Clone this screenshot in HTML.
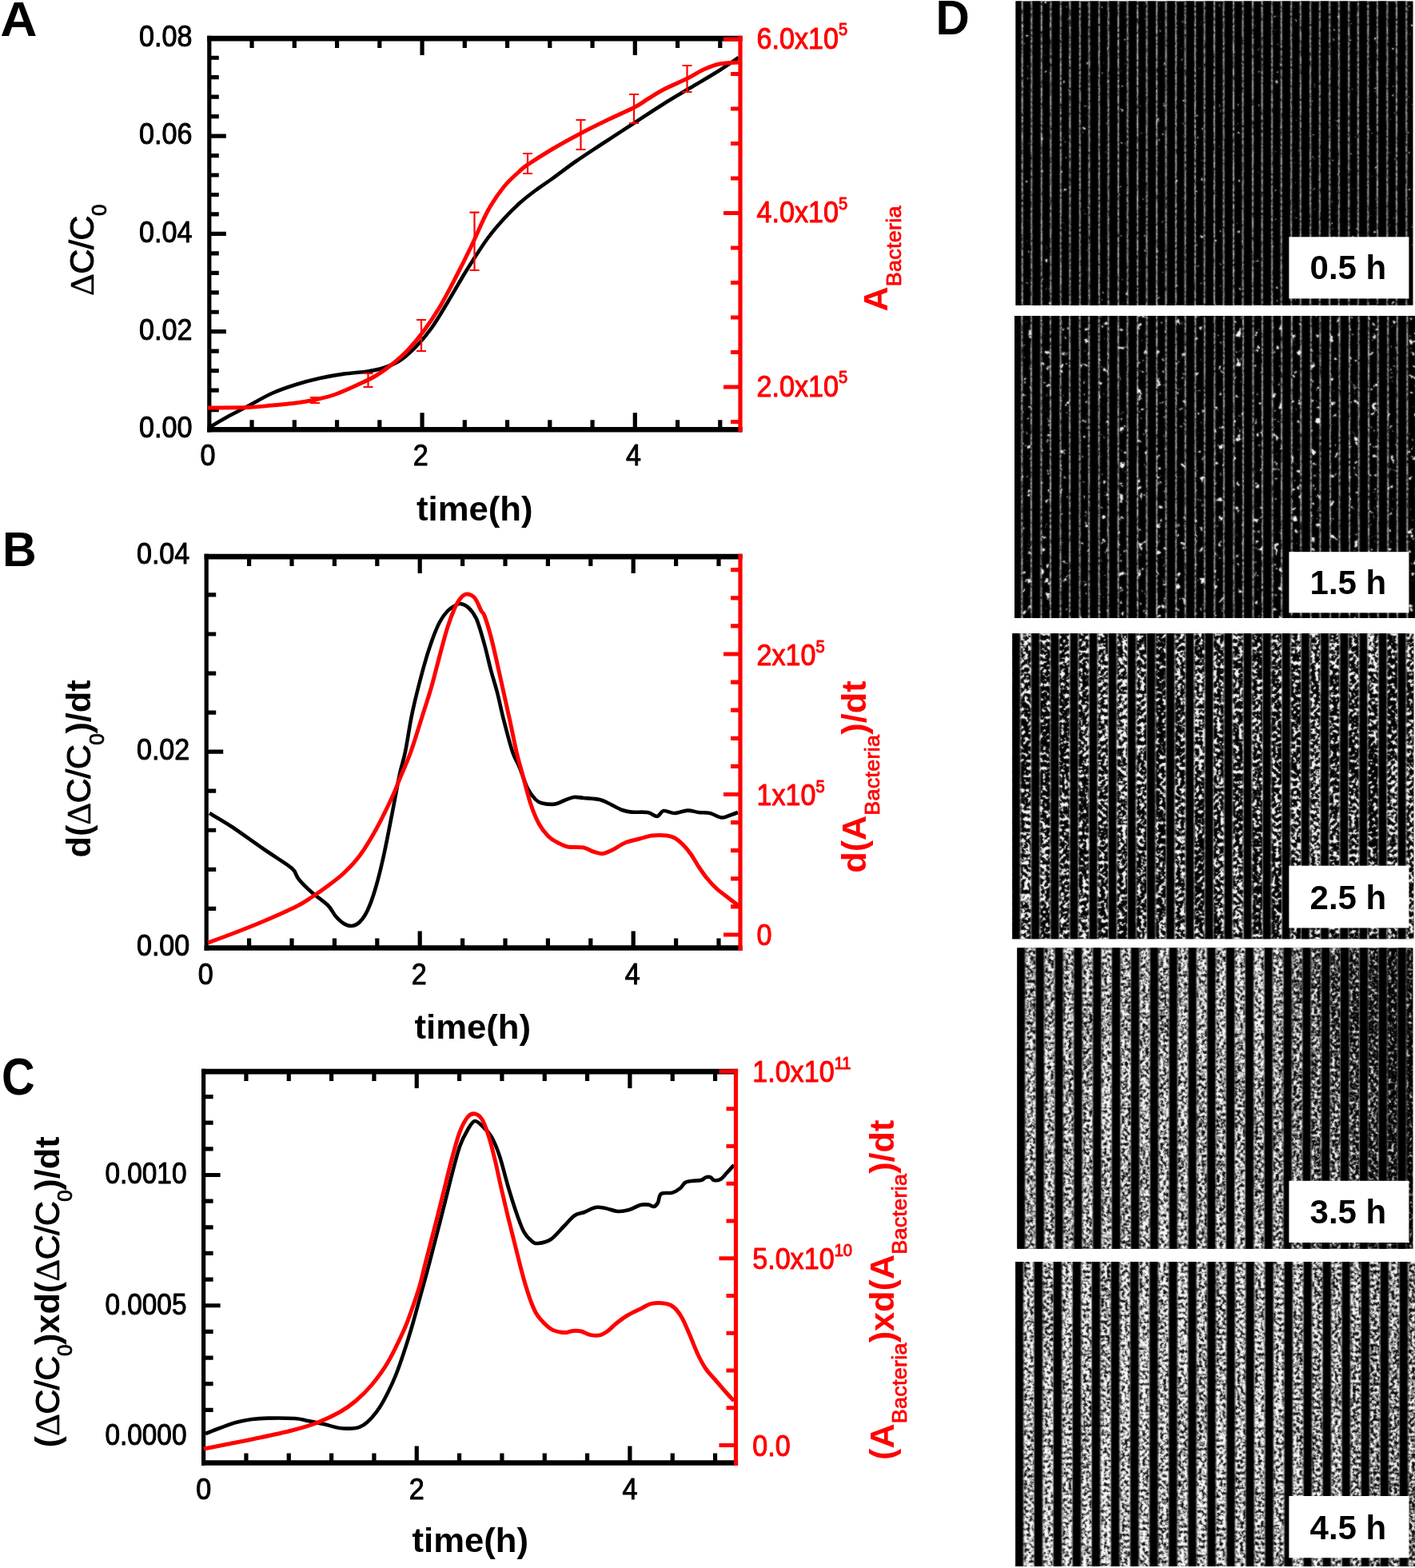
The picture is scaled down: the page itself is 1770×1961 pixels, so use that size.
<!DOCTYPE html>
<html lang="en"><head><meta charset="utf-8"><title>Figure</title>
<style>html,body{margin:0;padding:0;background:#fff;}body{width:1770px;height:1961px;overflow:hidden;}svg{display:block;font-family:'Liberation Sans', sans-serif;}</style>
</head><body>
<svg xmlns="http://www.w3.org/2000/svg" width="1770" height="1961" viewBox="0 0 1770 1961">
<rect width="1770" height="1961" fill="#fff"/>
<defs>
<filter id="soft" x="-2%" y="-2%" width="104%" height="104%"><feGaussianBlur stdDeviation="0.5"/></filter>
<filter id="soft2" x="-2%" y="-2%" width="104%" height="104%"><feGaussianBlur stdDeviation="0.8"/></filter>
<filter id="dot" x="0" y="0" width="100%" height="100%" color-interpolation-filters="sRGB"><feTurbulence type="fractalNoise" baseFrequency="0.45 0.3" numOctaves="2" seed="5"/><feColorMatrix type="matrix" values="0 0 0 0 1  0 0 0 0 1  0 0 0 0 1  2.6 0 0 0 -0.55" result="a"/><feComposite in="SourceGraphic" in2="a" operator="in"/></filter>
<linearGradient id="hgr" x1="0" y1="0" x2="1" y2="0"><stop offset="0" stop-color="#989898"/><stop offset="0.62" stop-color="#989898"/><stop offset="0.85" stop-color="#505050"/><stop offset="1" stop-color="#181818"/></linearGradient>
<filter id="nz1" x="0" y="0" width="100%" height="100%" color-interpolation-filters="sRGB">
<feTurbulence type="fractalNoise" baseFrequency="0.17" numOctaves="3" seed="3" result="h0"/>
<feColorMatrix in="h0" type="matrix" values="1 0 0 0 0  1 0 0 0 0  1 0 0 0 0  0 0 0 0 1" result="h1"/>
<feTurbulence type="fractalNoise" baseFrequency="0.03 0.006" numOctaves="2" seed="43" result="l0"/>
<feColorMatrix in="l0" type="matrix" values="1 0 0 0 0  1 0 0 0 0  1 0 0 0 0  0 0 0 0 1" result="l1"/>
<feComposite in="h1" in2="l1" operator="arithmetic" k1="0" k2="1" k3="0" k4="-0" result="m1"/>
<feComposite in="m1" in2="SourceGraphic" operator="arithmetic" k1="0" k2="1" k3="0" k4="-0" result="m2"/>
<feColorMatrix in="m2" type="matrix" values="0 0 0 0 1  0 0 0 0 1  0 0 0 0 1  14 0 0 0 -10.64" result="th"/>
</filter>
<pattern id="sb1" patternUnits="userSpaceOnUse" x="1266.3" y="0" width="24.03" height="10">
<rect x="0" y="0" width="12.4" height="10" fill="#000"/>
</pattern>
<pattern id="sl1" patternUnits="userSpaceOnUse" x="1266.3" y="0" width="24.03" height="10">
<rect x="11.6" y="0" width="1.6" height="10" fill="#f0f0f0"/>
<rect x="23.23" y="0" width="1.6" height="10" fill="#f0f0f0"/>
<rect x="-0.8" y="0" width="1.6" height="10" fill="#f0f0f0"/>
</pattern>
<filter id="sf1" x="-2%" y="-2%" width="104%" height="104%" color-interpolation-filters="sRGB"><feGaussianBlur stdDeviation="0.9" result="b"/><feComposite in="SourceGraphic" in2="b" operator="arithmetic" k1="0" k2="0.4" k3="0.6" k4="0"/></filter>
<clipPath id="ci1"><rect x="1270.6" y="1.5" width="496.9" height="380.2"/></clipPath>
<filter id="nz2" x="0" y="0" width="100%" height="100%" color-interpolation-filters="sRGB">
<feTurbulence type="fractalNoise" baseFrequency="0.13" numOctaves="3" seed="7" result="h0"/>
<feColorMatrix in="h0" type="matrix" values="1 0 0 0 0  1 0 0 0 0  1 0 0 0 0  0 0 0 0 1" result="h1"/>
<feTurbulence type="fractalNoise" baseFrequency="0.03 0.006" numOctaves="2" seed="47" result="l0"/>
<feColorMatrix in="l0" type="matrix" values="1 0 0 0 0  1 0 0 0 0  1 0 0 0 0  0 0 0 0 1" result="l1"/>
<feComposite in="h1" in2="l1" operator="arithmetic" k1="0" k2="1" k3="0.1" k4="-0.05" result="m1"/>
<feComposite in="m1" in2="SourceGraphic" operator="arithmetic" k1="0" k2="1" k3="0" k4="-0" result="m2"/>
<feColorMatrix in="m2" type="matrix" values="0 0 0 0 1  0 0 0 0 1  0 0 0 0 1  14 0 0 0 -9.31" result="th"/>
</filter>
<pattern id="sb2" patternUnits="userSpaceOnUse" x="1265.8" y="0" width="24.1" height="10">
<rect x="0" y="0" width="12.5" height="10" fill="#000"/>
</pattern>
<pattern id="sl2" patternUnits="userSpaceOnUse" x="1265.8" y="0" width="24.1" height="10">
<rect x="11.7" y="0" width="1.6" height="10" fill="#f0f0f0"/>
<rect x="23.3" y="0" width="1.6" height="10" fill="#f0f0f0"/>
<rect x="-0.8" y="0" width="1.6" height="10" fill="#f0f0f0"/>
</pattern>
<filter id="sf2" x="-2%" y="-2%" width="104%" height="104%" color-interpolation-filters="sRGB"><feGaussianBlur stdDeviation="0.9" result="b"/><feComposite in="SourceGraphic" in2="b" operator="arithmetic" k1="0" k2="0.4" k3="0.6" k4="0"/></filter>
<clipPath id="ci2"><rect x="1269" y="395" width="501" height="378"/></clipPath>
<filter id="nz3" x="0" y="0" width="100%" height="100%" color-interpolation-filters="sRGB">
<feTurbulence type="fractalNoise" baseFrequency="0.22" numOctaves="2" seed="11" result="h0"/>
<feColorMatrix in="h0" type="matrix" values="1 0 0 0 0  1 0 0 0 0  1 0 0 0 0  0 0 0 0 1" result="h1"/>
<feTurbulence type="fractalNoise" baseFrequency="0.03 0.006" numOctaves="2" seed="51" result="l0"/>
<feColorMatrix in="l0" type="matrix" values="1 0 0 0 0  1 0 0 0 0  1 0 0 0 0  0 0 0 0 1" result="l1"/>
<feComposite in="h1" in2="l1" operator="arithmetic" k1="0" k2="1" k3="0.22" k4="-0.11" result="m1"/>
<feComposite in="m1" in2="SourceGraphic" operator="arithmetic" k1="0" k2="1" k3="0" k4="-0" result="m2"/>
<feColorMatrix in="m2" type="matrix" values="0 0 0 0 1  0 0 0 0 1  0 0 0 0 1  8 0 0 0 -3.96" result="th"/>
</filter>
<pattern id="sb3" patternUnits="userSpaceOnUse" x="1266.1" y="0" width="24.13" height="10">
<rect x="0" y="0" width="10" height="10" fill="#000"/>
</pattern>
<pattern id="sl3" patternUnits="userSpaceOnUse" x="1266.1" y="0" width="24.13" height="10">
<rect x="10" y="0" width="1" height="10" fill="#a0a0a0"/>
<rect x="23.13" y="0" width="1" height="10" fill="#a0a0a0"/>
</pattern>
<filter id="sf3" x="-2%" y="-2%" width="104%" height="104%" color-interpolation-filters="sRGB"><feGaussianBlur stdDeviation="0.9" result="b"/><feComposite in="SourceGraphic" in2="b" operator="arithmetic" k1="0" k2="0.5" k3="0.5" k4="0"/></filter>
<clipPath id="ci3"><rect x="1266" y="792.3" width="502.5" height="381.9"/></clipPath>
<filter id="nz4" x="0" y="0" width="100%" height="100%" color-interpolation-filters="sRGB">
<feTurbulence type="fractalNoise" baseFrequency="0.27" numOctaves="3" seed="19" result="h0"/>
<feColorMatrix in="h0" type="matrix" values="1 0 0 0 0  1 0 0 0 0  1 0 0 0 0  0 0 0 0 1" result="h1"/>
<feTurbulence type="fractalNoise" baseFrequency="0.03 0.006" numOctaves="2" seed="59" result="l0"/>
<feColorMatrix in="l0" type="matrix" values="1 0 0 0 0  1 0 0 0 0  1 0 0 0 0  0 0 0 0 1" result="l1"/>
<feComposite in="h1" in2="l1" operator="arithmetic" k1="0" k2="1" k3="0.12" k4="-0.06" result="m1"/>
<feComposite in="m1" in2="SourceGraphic" operator="arithmetic" k1="0" k2="1" k3="0.42" k4="-0.21" result="m2"/>
<feColorMatrix in="m2" type="matrix" values="0 0 0 0 1  0 0 0 0 1  0 0 0 0 1  4 0 0 0 -1.52" result="th"/>
</filter>
<pattern id="sb4" patternUnits="userSpaceOnUse" x="1271.9" y="0" width="23.83" height="10">
<rect x="0" y="0" width="10.3" height="10" fill="#000"/>
</pattern>
<pattern id="sl4" patternUnits="userSpaceOnUse" x="1271.9" y="0" width="23.83" height="10">
<rect x="10.4" y="0" width="0.8" height="10" fill="#808080"/>
<rect x="22.93" y="0" width="0.8" height="10" fill="#808080"/>
</pattern>
<filter id="sf4" x="-2%" y="-2%" width="104%" height="104%" color-interpolation-filters="sRGB"><feGaussianBlur stdDeviation="0.9" result="b"/><feComposite in="SourceGraphic" in2="b" operator="arithmetic" k1="0" k2="0.5" k3="0.5" k4="0"/></filter>
<clipPath id="ci4"><rect x="1272.3" y="1185.6" width="495.2" height="376.1"/></clipPath>
<filter id="nz5" x="0" y="0" width="100%" height="100%" color-interpolation-filters="sRGB">
<feTurbulence type="fractalNoise" baseFrequency="0.27" numOctaves="3" seed="23" result="h0"/>
<feColorMatrix in="h0" type="matrix" values="1 0 0 0 0  1 0 0 0 0  1 0 0 0 0  0 0 0 0 1" result="h1"/>
<feTurbulence type="fractalNoise" baseFrequency="0.03 0.006" numOctaves="2" seed="63" result="l0"/>
<feColorMatrix in="l0" type="matrix" values="1 0 0 0 0  1 0 0 0 0  1 0 0 0 0  0 0 0 0 1" result="l1"/>
<feComposite in="h1" in2="l1" operator="arithmetic" k1="0" k2="1" k3="0.12" k4="-0.06" result="m1"/>
<feComposite in="m1" in2="SourceGraphic" operator="arithmetic" k1="0" k2="1" k3="0.12" k4="-0.06" result="m2"/>
<feColorMatrix in="m2" type="matrix" values="0 0 0 0 1  0 0 0 0 1  0 0 0 0 1  4 0 0 0 -1.34" result="th"/>
</filter>
<pattern id="sb5" patternUnits="userSpaceOnUse" x="1269.8" y="0" width="24.05" height="10">
<rect x="0" y="0" width="10.3" height="10" fill="#000"/>
</pattern>
<pattern id="sl5" patternUnits="userSpaceOnUse" x="1269.8" y="0" width="24.05" height="10">
<rect x="10.4" y="0" width="0.8" height="10" fill="#808080"/>
<rect x="23.15" y="0" width="0.8" height="10" fill="#808080"/>
</pattern>
<filter id="sf5" x="-2%" y="-2%" width="104%" height="104%" color-interpolation-filters="sRGB"><feGaussianBlur stdDeviation="0.9" result="b"/><feComposite in="SourceGraphic" in2="b" operator="arithmetic" k1="0" k2="0.5" k3="0.5" k4="0"/></filter>
<clipPath id="ci5"><rect x="1270.2" y="1578" width="499.8" height="381"/></clipPath>
</defs>
<g id="img1" clip-path="url(#ci1)">
<rect x="1266.6" y="-2.5" width="504.9" height="388.2" fill="#000"/>
<g filter="url(#sf1)">
<rect x="1266.6" y="-2.5" width="504.9" height="388.2" fill="url(#hgr)" filter="url(#nz1)"/>
<rect x="1266.6" y="-2.5" width="504.9" height="388.2" fill="url(#sb1)"/>
<rect x="1266.6" y="-2.5" width="504.9" height="388.2" fill="url(#sl1)" filter="url(#dot)"/>
</g>
</g>
<rect x="1612.4" y="296.3" width="150" height="77.1" fill="#fff"/>
<text transform="translate(1686.4,348.6) scale(1,1)" font-size="42" text-anchor="middle" font-weight="bold" fill="#000">0.5 h</text>
<g id="img2" clip-path="url(#ci2)">
<rect x="1265" y="391" width="509" height="386" fill="#000"/>
<g filter="url(#sf2)">
<rect x="1265" y="391" width="509" height="386" fill="url(#hgr)" filter="url(#nz2)"/>
<rect x="1265" y="391" width="509" height="386" fill="url(#sb2)"/>
<rect x="1265" y="391" width="509" height="386" fill="url(#sl2)" filter="url(#dot)"/>
</g>
</g>
<rect x="1612.4" y="690.2" width="150" height="76.2" fill="#fff"/>
<text transform="translate(1686.4,742.5) scale(1,1)" font-size="42" text-anchor="middle" font-weight="bold" fill="#000">1.5 h</text>
<g id="img3" clip-path="url(#ci3)">
<rect x="1262" y="788.3" width="510.5" height="389.9" fill="#000"/>
<g filter="url(#sf3)">
<rect x="1262" y="788.3" width="510.5" height="389.9" fill="url(#hgr)" filter="url(#nz3)"/>
<rect x="1262" y="788.3" width="510.5" height="389.9" fill="url(#sb3)"/>
<rect x="1262" y="788.3" width="510.5" height="389.9" fill="url(#sl3)"/>
</g>
</g>
<rect x="1612.4" y="1082.7" width="150" height="77.8" fill="#fff"/>
<text transform="translate(1686.4,1136.6) scale(1,1)" font-size="42" text-anchor="middle" font-weight="bold" fill="#000">2.5 h</text>
<g id="img4" clip-path="url(#ci4)">
<rect x="1268.3" y="1181.6" width="503.2" height="384.1" fill="#000"/>
<g filter="url(#sf4)">
<rect x="1268.3" y="1181.6" width="503.2" height="384.1" fill="url(#hgr)" filter="url(#nz4)"/>
<rect x="1268.3" y="1181.6" width="503.2" height="384.1" fill="url(#sb4)"/>
<rect x="1268.3" y="1181.6" width="503.2" height="384.1" fill="url(#sl4)"/>
</g>
</g>
<rect x="1612.4" y="1476.8" width="150" height="77.2" fill="#fff"/>
<text transform="translate(1686.4,1530.2) scale(1,1)" font-size="42" text-anchor="middle" font-weight="bold" fill="#000">3.5 h</text>
<g id="img5" clip-path="url(#ci5)">
<rect x="1266.2" y="1574" width="507.8" height="389" fill="#000"/>
<g filter="url(#sf5)">
<rect x="1266.2" y="1574" width="507.8" height="389" fill="url(#hgr)" filter="url(#nz5)"/>
<rect x="1266.2" y="1574" width="507.8" height="389" fill="url(#sb5)"/>
<rect x="1266.2" y="1574" width="507.8" height="389" fill="url(#sl5)"/>
</g>
</g>
<rect x="1612.4" y="1871" width="150" height="77.3" fill="#fff"/>
<text transform="translate(1686.4,1924.9) scale(1,1)" font-size="42" text-anchor="middle" font-weight="bold" fill="#000">4.5 h</text>
<g id="panelA">
<clipPath id="clipA"><rect x="258.8" y="48.1" width="670.2" height="489.2"/></clipPath>
<path d="M315.05,48.1v12M315.05,537.3v-12M368.3,48.1v12M368.3,537.3v-12M421.55,48.1v12M421.55,537.3v-12M474.8,48.1v12M474.8,537.3v-12M528.05,48.1v21M528.05,537.3v-21M581.3,48.1v12M581.3,537.3v-12M634.55,48.1v12M634.55,537.3v-12M687.8,48.1v12M687.8,537.3v-12M741.05,48.1v12M741.05,537.3v-12M794.3,48.1v21M794.3,537.3v-21M847.55,48.1v12M847.55,537.3v-12M900.8,48.1v12M900.8,537.3v-12M261.8,512.54h12M261.8,488.08h12M261.8,463.62h12M261.8,439.16h12M261.8,414.7h21M261.8,390.24h12M261.8,365.78h12M261.8,341.32h12M261.8,316.86h12M261.8,292.4h21M261.8,267.94h12M261.8,243.48h12M261.8,219.02h12M261.8,194.56h12M261.8,170.1h21M261.8,145.64h12M261.8,121.18h12M261.8,96.72h12M261.8,72.26h12" stroke="#000" stroke-width="5.2" fill="none"/>
<path d="M261.8,44.8V540.6" stroke="#000" stroke-width="5.2" fill="none"/>
<path d="M259.2,48.1H928.6M259.2,537.3H928.6" stroke="#000" stroke-width="6.6" fill="none"/>
<g clip-path="url(#clipA)" fill="none" stroke-linejoin="round" stroke-linecap="butt">
<path d="M261,535C265,532.67 276.83,525.5 285,521C293.17,516.5 300.83,512.83 310,508C319.17,503.17 330,496.5 340,492C350,487.5 360,484.17 370,481C380,477.83 390,475.23 400,473C410,470.77 420,469.03 430,467.6C440,466.17 451.67,465.67 460,464.4C468.33,463.13 473.33,462.23 480,460C486.67,457.77 493.33,455.33 500,451C506.67,446.67 513.33,440.83 520,434C526.67,427.17 533.33,419.33 540,410C546.67,400.67 553.33,389 560,378C566.67,367 575,352.33 580,344C585,335.67 585,335.67 590,328C595,320.33 603.33,307 610,298C616.67,289 623.33,281.33 630,274C636.67,266.67 643.33,260 650,254C656.67,248 663.33,243 670,238C676.67,233 681.67,230 690,224C698.33,218 710,209 720,202C730,195 738.33,189.67 750,182C761.67,174.33 776.67,164.67 790,156C803.33,147.33 816.67,138.33 830,130C843.33,121.67 858.33,113 870,106C881.67,99 891,93.67 900,88C909,82.33 920,74.67 924,72" stroke="#000" stroke-width="4.6"/>
<path d="M260,510C268.33,509.93 296.67,510.1 310,509.6C323.33,509.1 330,507.93 340,507C350,506.07 361,505.17 370,504C379,502.83 385.67,501.83 394,500C402.33,498.17 410.67,496.33 420,493C429.33,489.67 441.67,483.83 450,480C458.33,476.17 463.33,474 470,470C476.67,466 483.33,461.33 490,456C496.67,450.67 503.33,445 510,438C516.67,431 523.33,423 530,414C536.67,405 543.33,395.17 550,384C556.67,372.83 563.33,359.83 570,347C576.67,334.17 583.33,320.83 590,307C596.67,293.17 603.33,276.17 610,264C616.67,251.83 623.33,242.33 630,234C636.67,225.67 645,218.67 650,214C655,209.33 653.33,210.5 660,206C666.67,201.5 679,193.5 690,187C701,180.5 714.33,173.17 726,167C737.67,160.83 748.67,155.5 760,150C771.33,144.5 785.67,138.33 794,134C802.33,129.67 804,127.67 810,124C816,120.33 821.67,116.33 830,112C838.33,107.67 851.67,102.17 860,98C868.33,93.83 873.33,90 880,87C886.67,84 892.67,81.5 900,80C907.33,78.5 920,78.33 924,78" stroke="#ff0000" stroke-width="5"/>
</g>
<path d="M394,497V504M388,497h12M388,504h12M460.5,467V484M454.5,467h12M454.5,484h12M527,400V439M521,400h12M521,439h12M593.5,265.6V338M587.5,265.6h12M587.5,338h12M660,192V217M654,192h12M654,217h12M726.5,150V187M720.5,150h12M720.5,187h12M793,118V154M787,118h12M787,154h12M859.5,82V115M853.5,82h12M853.5,115h12" stroke="#ff0000" stroke-width="2.2" fill="none"/>
<path d="M926,44.8V540.6" stroke="#ff0000" stroke-width="5.2" fill="none"/>
<path d="M926,527.5h-12M926,484h-21M926,440.5h-12M926,397h-12M926,353.5h-12M926,310h-12M926,266.5h-21M926,223h-12M926,179.5h-12M926,136h-12M926,92.5h-12M926,49h-21" stroke="#ff0000" stroke-width="5.2" fill="none"/>
<text transform="translate(240.5,58) scale(0.94,1)" font-size="36.3" text-anchor="end" font-weight="normal" fill="#000" stroke="#000" stroke-width="1" stroke-linejoin="round">0.08</text>
<text transform="translate(240.5,180.25) scale(0.94,1)" font-size="36.3" text-anchor="end" font-weight="normal" fill="#000" stroke="#000" stroke-width="1" stroke-linejoin="round">0.06</text>
<text transform="translate(240.5,302.5) scale(0.94,1)" font-size="36.3" text-anchor="end" font-weight="normal" fill="#000" stroke="#000" stroke-width="1" stroke-linejoin="round">0.04</text>
<text transform="translate(240.5,424.75) scale(0.94,1)" font-size="36.3" text-anchor="end" font-weight="normal" fill="#000" stroke="#000" stroke-width="1" stroke-linejoin="round">0.02</text>
<text transform="translate(240.5,547) scale(0.94,1)" font-size="36.3" text-anchor="end" font-weight="normal" fill="#000" stroke="#000" stroke-width="1" stroke-linejoin="round">0.00</text>
<text transform="translate(946.5,60.5) scale(0.94,1)" font-size="36.3" text-anchor="start" font-weight="normal" fill="#ff0000" stroke="#ff0000" stroke-width="1" stroke-linejoin="round">6.0x10<tspan font-size="21.5" dy="-16.3">5</tspan></text>
<text transform="translate(946.5,278) scale(0.94,1)" font-size="36.3" text-anchor="start" font-weight="normal" fill="#ff0000" stroke="#ff0000" stroke-width="1" stroke-linejoin="round">4.0x10<tspan font-size="21.5" dy="-16.3">5</tspan></text>
<text transform="translate(946.5,495.5) scale(0.94,1)" font-size="36.3" text-anchor="start" font-weight="normal" fill="#ff0000" stroke="#ff0000" stroke-width="1" stroke-linejoin="round">2.0x10<tspan font-size="21.5" dy="-16.3">5</tspan></text>
<text transform="translate(260,582.2) scale(0.94,1)" font-size="36.3" text-anchor="middle" font-weight="normal" fill="#000" stroke="#000" stroke-width="1" stroke-linejoin="round">0</text>
<text transform="translate(526.25,582.2) scale(0.94,1)" font-size="36.3" text-anchor="middle" font-weight="normal" fill="#000" stroke="#000" stroke-width="1" stroke-linejoin="round">2</text>
<text transform="translate(792.5,582.2) scale(0.94,1)" font-size="36.3" text-anchor="middle" font-weight="normal" fill="#000" stroke="#000" stroke-width="1" stroke-linejoin="round">4</text>
<text transform="translate(593.81,651) scale(1.04,1)" font-size="42" text-anchor="middle" font-weight="bold" fill="#000">time(h)</text>
</g>
<g id="panelB">
<clipPath id="clipB"><rect x="255.2" y="696.1" width="673.8" height="489.4"/></clipPath>
<path d="M311.6,696.1v12M311.6,1185.5v-12M365,696.1v12M365,1185.5v-12M418.4,696.1v12M418.4,1185.5v-12M471.8,696.1v12M471.8,1185.5v-12M525.2,696.1v21M525.2,1185.5v-21M578.6,696.1v12M578.6,1185.5v-12M632,696.1v12M632,1185.5v-12M685.4,696.1v12M685.4,1185.5v-12M738.8,696.1v12M738.8,1185.5v-12M792.2,696.1v21M792.2,1185.5v-21M845.6,696.1v12M845.6,1185.5v-12M899,696.1v12M899,1185.5v-12M258.2,1136.35h12M258.2,1087.3h12M258.2,1038.25h12M258.2,989.2h12M258.2,940.15h21M258.2,891.1h12M258.2,842.05h12M258.2,793h12M258.2,743.95h12" stroke="#000" stroke-width="5.2" fill="none"/>
<path d="M258.2,692.8V1188.8" stroke="#000" stroke-width="5.2" fill="none"/>
<path d="M255.6,696.1H928.6M255.6,1185.5H928.6" stroke="#000" stroke-width="6.6" fill="none"/>
<g clip-path="url(#clipB)" fill="none" stroke-linejoin="round" stroke-linecap="butt">
<path d="M262,1017C266.67,1019.83 278.67,1026.5 290,1034C301.33,1041.5 318.33,1054 330,1062C341.67,1070 353.67,1077.5 360,1082C366.33,1086.5 365.67,1086 368,1089C370.33,1092 370.33,1095.5 374,1100C377.67,1104.5 384,1110.67 390,1116C396,1121.33 405,1127 410,1132C415,1137 416.67,1142.17 420,1146C423.33,1149.83 426.67,1153 430,1155C433.33,1157 436.67,1158.33 440,1158C443.33,1157.67 446.67,1156.33 450,1153C453.33,1149.67 456.67,1145.17 460,1138C463.33,1130.83 466.67,1121.33 470,1110C473.33,1098.67 476.67,1085 480,1070C483.33,1055 486.67,1037 490,1020C493.33,1003 497.17,981.33 500,968C502.83,954.67 504.33,953 507,940C509.67,927 512.17,907.67 516,890C519.83,872.33 526,848.67 530,834C534,819.33 536.67,811.33 540,802C543.33,792.67 546.67,784.33 550,778C553.33,771.67 556.67,767.5 560,764C563.33,760.5 567.33,758.5 570,757C572.67,755.5 573.33,754.5 576,755C578.67,755.5 582.67,756.83 586,760C589.33,763.17 592.67,766.33 596,774C599.33,781.67 603,795.33 606,806C609,816.67 611.33,828 614,838C616.67,848 619.33,855.67 622,866C624.67,876.33 626.83,887.67 630,900C633.17,912.33 637.67,930 641,940C644.33,950 646.83,952.33 650,960C653.17,967.67 656.67,979.33 660,986C663.33,992.67 667,996.93 670,1000C673,1003.07 674,1003.47 678,1004.4C682,1005.33 689.33,1006.17 694,1005.6C698.67,1005.03 702,1002.43 706,1001C710,999.57 714,997.5 718,997C722,996.5 724.67,997.5 730,998C735.33,998.5 744.67,998.83 750,1000C755.33,1001.17 757.33,1002.83 762,1005C766.67,1007.17 773.33,1011.23 778,1013C782.67,1014.77 784.67,1015.1 790,1015.6C795.33,1016.1 804.67,1015.1 810,1016C815.33,1016.9 818.67,1021.33 822,1021C825.33,1020.67 826.33,1014.67 830,1014C833.67,1013.33 839,1017.07 844,1017C849,1016.93 855,1013.77 860,1013.6C865,1013.43 869.33,1015.43 874,1016C878.67,1016.57 883.33,1015.93 888,1017C892.67,1018.07 898,1021.9 902,1022.4C906,1022.9 908.5,1021.07 912,1020C915.5,1018.93 921.17,1016.67 923,1016" stroke="#000" stroke-width="4.6"/>
<path d="M260,1179C265,1177.17 278.33,1172.5 290,1168C301.67,1163.5 316.67,1157.67 330,1152C343.33,1146.33 360,1139 370,1134C380,1129 383.33,1126.33 390,1122C396.67,1117.67 403.33,1113 410,1108C416.67,1103 423.33,1098.33 430,1092C436.67,1085.67 443.33,1079 450,1070C456.67,1061 463.33,1050 470,1038C476.67,1026 485,1008.67 490,998C495,987.33 496,983.67 500,974C504,964.33 509,954 514,940C519,926 525.67,903.67 530,890C534.33,876.33 536.67,869.67 540,858C543.33,846.33 546.67,832.33 550,820C553.33,807.67 556.67,794.33 560,784C563.33,773.67 567,764.33 570,758C573,751.67 575.5,748.5 578,746C580.5,743.5 582.33,742.67 585,743C587.67,743.33 591.17,744.5 594,748C596.83,751.5 600,760.33 602,764C604,767.67 604,764.67 606,770C608,775.33 611.33,786 614,796C616.67,806 619.33,818.33 622,830C624.67,841.67 627.33,854 630,866C632.67,878 635.33,889.67 638,902C640.67,914.33 643.33,928.67 646,940C648.67,951.33 651,959 654,970C657,981 660.67,996 664,1006C667.33,1016 670.33,1023.33 674,1030C677.67,1036.67 682,1042 686,1046C690,1050 694,1051.83 698,1054C702,1056.17 704.67,1058 710,1059C715.33,1060 724.67,1059 730,1060C735.33,1061 738,1063.73 742,1065C746,1066.27 750,1067.93 754,1067.6C758,1067.27 761.33,1065.27 766,1063C770.67,1060.73 776.33,1056.33 782,1054C787.67,1051.67 794.33,1050.5 800,1049C805.67,1047.5 810.33,1045.67 816,1045C821.67,1044.33 829.33,1044.5 834,1045C838.67,1045.5 840.67,1046.17 844,1048C847.33,1049.83 850.67,1052.67 854,1056C857.33,1059.33 860.67,1063.33 864,1068C867.33,1072.67 870.67,1079 874,1084C877.33,1089 880.33,1093.5 884,1098C887.67,1102.5 891.67,1107 896,1111C900.33,1115 905.5,1118.5 910,1122C914.5,1125.5 920.83,1130.33 923,1132" stroke="#ff0000" stroke-width="5"/>
</g>
<path d="M926,692.8V1188.8" stroke="#ff0000" stroke-width="5.2" fill="none"/>
<path d="M926,1169h-21M926,1133.9h-12M926,1098.8h-12M926,1063.7h-12M926,1028.6h-12M926,993.5h-21M926,958.4h-12M926,923.3h-12M926,888.2h-12M926,853.1h-12M926,818h-21M926,782.9h-12M926,747.8h-12M926,712.7h-12" stroke="#ff0000" stroke-width="5.2" fill="none"/>
<text transform="translate(237.3,704.8) scale(0.94,1)" font-size="36.3" text-anchor="end" font-weight="normal" fill="#000" stroke="#000" stroke-width="1" stroke-linejoin="round">0.04</text>
<text transform="translate(237.3,950.2) scale(0.94,1)" font-size="36.3" text-anchor="end" font-weight="normal" fill="#000" stroke="#000" stroke-width="1" stroke-linejoin="round">0.02</text>
<text transform="translate(237.3,1194.8) scale(0.94,1)" font-size="36.3" text-anchor="end" font-weight="normal" fill="#000" stroke="#000" stroke-width="1" stroke-linejoin="round">0.00</text>
<text transform="translate(946.5,831.9) scale(0.94,1)" font-size="36.3" text-anchor="start" font-weight="normal" fill="#ff0000" stroke="#ff0000" stroke-width="1" stroke-linejoin="round">2x10<tspan font-size="21.5" dy="-16.3">5</tspan></text>
<text transform="translate(946.5,1007.4) scale(0.94,1)" font-size="36.3" text-anchor="start" font-weight="normal" fill="#ff0000" stroke="#ff0000" stroke-width="1" stroke-linejoin="round">1x10<tspan font-size="21.5" dy="-16.3">5</tspan></text>
<text transform="translate(946.5,1182.4) scale(0.94,1)" font-size="36.3" text-anchor="start" font-weight="normal" fill="#ff0000" stroke="#ff0000" stroke-width="1" stroke-linejoin="round">0</text>
<text transform="translate(257.2,1230.5) scale(0.94,1)" font-size="36.3" text-anchor="middle" font-weight="normal" fill="#000" stroke="#000" stroke-width="1" stroke-linejoin="round">0</text>
<text transform="translate(524.2,1230.5) scale(0.94,1)" font-size="36.3" text-anchor="middle" font-weight="normal" fill="#000" stroke="#000" stroke-width="1" stroke-linejoin="round">2</text>
<text transform="translate(791.2,1230.5) scale(0.94,1)" font-size="36.3" text-anchor="middle" font-weight="normal" fill="#000" stroke="#000" stroke-width="1" stroke-linejoin="round">4</text>
<text transform="translate(591.25,1298.7) scale(1.04,1)" font-size="42" text-anchor="middle" font-weight="bold" fill="#000">time(h)</text>
</g>
<g id="panelC">
<clipPath id="clipC"><rect x="251.6" y="1340.1" width="671.9" height="489.4"/></clipPath>
<path d="M307.93,1340.1v12M307.93,1829.5v-12M361.26,1340.1v12M361.26,1829.5v-12M414.59,1340.1v12M414.59,1829.5v-12M467.92,1340.1v12M467.92,1829.5v-12M521.25,1340.1v21M521.25,1829.5v-21M574.58,1340.1v12M574.58,1829.5v-12M627.91,1340.1v12M627.91,1829.5v-12M681.24,1340.1v12M681.24,1829.5v-12M734.57,1340.1v12M734.57,1829.5v-12M787.9,1340.1v21M787.9,1829.5v-21M841.23,1340.1v12M841.23,1829.5v-12M894.56,1340.1v12M894.56,1829.5v-12M254.6,1763.35h12M254.6,1730.7h12M254.6,1698.05h12M254.6,1665.4h12M254.6,1632.75h21M254.6,1600.1h12M254.6,1567.45h12M254.6,1534.8h12M254.6,1502.15h12M254.6,1469.5h21M254.6,1436.85h12M254.6,1404.2h12M254.6,1371.55h12" stroke="#000" stroke-width="5.2" fill="none"/>
<path d="M254.6,1336.8V1832.8" stroke="#000" stroke-width="5.2" fill="none"/>
<path d="M252,1340.1H923.1M252,1829.5H923.1" stroke="#000" stroke-width="6.6" fill="none"/>
<g clip-path="url(#clipC)" fill="none" stroke-linejoin="round" stroke-linecap="butt">
<path d="M257,1793C260,1791.83 268.67,1788.33 275,1786C281.33,1783.67 288.33,1780.83 295,1779C301.67,1777.17 308.33,1775.9 315,1775C321.67,1774.1 326,1773.77 335,1773.6C344,1773.43 360.67,1773.43 369,1774C377.33,1774.57 379,1775.83 385,1777C391,1778.17 398.33,1779.5 405,1781C411.67,1782.5 418.33,1785.17 425,1786C431.67,1786.83 440,1786.67 445,1786C450,1785.33 451.67,1784.17 455,1782C458.33,1779.83 461.67,1776.67 465,1773C468.33,1769.33 471.67,1765.17 475,1760C478.33,1754.83 481.67,1748.67 485,1742C488.33,1735.33 491.67,1728.33 495,1720C498.33,1711.67 501.67,1702 505,1692C508.33,1682 511.67,1671.33 515,1660C518.33,1648.67 521.33,1637.33 525,1624C528.67,1610.67 532,1599 537,1580C542,1561 550.33,1528.33 555,1510C559.67,1491.67 561.67,1482.67 565,1470C568.33,1457.33 571.67,1443.5 575,1434C578.33,1424.5 581.83,1418.33 585,1413C588.17,1407.67 590.67,1402.5 594,1402C597.33,1401.5 601.5,1406.67 605,1410C608.5,1413.33 611.67,1416 615,1422C618.33,1428 621.67,1436 625,1446C628.33,1456 631.67,1470.67 635,1482C638.33,1493.33 641.67,1504.33 645,1514C648.33,1523.67 651.67,1533.67 655,1540C658.33,1546.33 662,1549.5 665,1552C668,1554.5 669,1555.33 673,1555C677,1554.67 683.67,1553.5 689,1550C694.33,1546.5 700,1539 705,1534C710,1529 714.67,1523 719,1520C723.33,1517 726.67,1517.67 731,1516C735.33,1514.33 740.67,1510.83 745,1510C749.33,1509.17 752.33,1510.17 757,1511C761.67,1511.83 768,1514.67 773,1515C778,1515.33 782.33,1514.33 787,1513C791.67,1511.67 797,1508.07 801,1507C805,1505.93 808.17,1506.27 811,1506.6C813.83,1506.93 816,1509.43 818,1509C820,1508.57 821.5,1506.67 823,1504C824.5,1501.33 824,1495.07 827,1493C830,1490.93 837,1492.77 841,1491.6C845,1490.43 848.33,1488.1 851,1486C853.67,1483.9 854.67,1480.5 857,1479C859.33,1477.5 861.67,1477.5 865,1477C868.33,1476.5 874,1476.77 877,1476C880,1475.23 881,1473 883,1472.4C885,1471.8 887.33,1471.8 889,1472.4C890.67,1473 891,1475.57 893,1476C895,1476.43 898.33,1476.5 901,1475C903.67,1473.5 906.17,1470 909,1467C911.83,1464 916.5,1458.67 918,1457" stroke="#000" stroke-width="4.6"/>
<path d="M255,1812C260,1811 273.33,1808.33 285,1806C296.67,1803.67 311.67,1800.83 325,1798C338.33,1795.17 353.33,1792 365,1789C376.67,1786 385,1783.83 395,1780C405,1776.17 416.67,1770.67 425,1766C433.33,1761.33 438.33,1757.67 445,1752C451.67,1746.33 458.33,1740 465,1732C471.67,1724 478.33,1715.33 485,1704C491.67,1692.67 500,1675 505,1664C510,1653 511.67,1647.33 515,1638C518.33,1628.67 522.17,1617.67 525,1608C527.83,1598.33 528.67,1593 532,1580C535.33,1567 541.17,1545 545,1530C548.83,1515 551.67,1503.33 555,1490C558.33,1476.67 561.67,1462.33 565,1450C568.33,1437.67 571.67,1424.83 575,1416C578.33,1407.17 581.83,1400.83 585,1397C588.17,1393.17 591,1392.5 594,1393C597,1393.5 600.17,1395.5 603,1400C605.83,1404.5 608.33,1411.67 611,1420C613.67,1428.33 616.33,1439 619,1450C621.67,1461 624.33,1474.33 627,1486C629.67,1497.67 632.33,1509 635,1520C637.67,1531 640.5,1542 643,1552C645.5,1562 647.67,1571 650,1580C652.33,1589 654.5,1597.67 657,1606C659.5,1614.33 662.33,1623.33 665,1630C667.67,1636.67 669,1640.67 673,1646C677,1651.33 684.33,1658.67 689,1662C693.67,1665.33 697.67,1665.27 701,1666C704.33,1666.73 706.33,1666.67 709,1666.4C711.67,1666.13 714,1664.63 717,1664.4C720,1664.17 723.33,1664.13 727,1665C730.67,1665.87 735,1668.83 739,1669.6C743,1670.37 747.33,1670.53 751,1669.6C754.67,1668.67 757.67,1666.43 761,1664C764.33,1661.57 767,1658.17 771,1655C775,1651.83 780,1648 785,1645C790,1642 796,1639.43 801,1637C806,1634.57 809.67,1631.5 815,1630.4C820.33,1629.3 828.33,1629.63 833,1630.4C837.67,1631.17 839.67,1632.07 843,1635C846.33,1637.93 849.67,1642.17 853,1648C856.33,1653.83 859.67,1662.33 863,1670C866.33,1677.67 869.67,1687 873,1694C876.33,1701 879.33,1706.67 883,1712C886.67,1717.33 891,1721.33 895,1726C899,1730.67 903.17,1735.67 907,1740C910.83,1744.33 916.17,1750 918,1752" stroke="#ff0000" stroke-width="5"/>
</g>
<path d="M920.5,1336.8V1832.8" stroke="#ff0000" stroke-width="5.2" fill="none"/>
<path d="M920.5,1807.5h-21M920.5,1760.75h-12M920.5,1714h-12M920.5,1667.25h-12M920.5,1620.5h-12M920.5,1573.75h-21M920.5,1527h-12M920.5,1480.25h-12M920.5,1433.5h-12M920.5,1386.75h-12M920.5,1340h-21" stroke="#ff0000" stroke-width="5.2" fill="none"/>
<text transform="translate(233.5,1480) scale(0.92,1)" font-size="36.3" text-anchor="end" font-weight="normal" fill="#000" stroke="#000" stroke-width="1" stroke-linejoin="round">0.0010</text>
<text transform="translate(233.5,1643.5) scale(0.92,1)" font-size="36.3" text-anchor="end" font-weight="normal" fill="#000" stroke="#000" stroke-width="1" stroke-linejoin="round">0.0005</text>
<text transform="translate(233.5,1806.5) scale(0.92,1)" font-size="36.3" text-anchor="end" font-weight="normal" fill="#000" stroke="#000" stroke-width="1" stroke-linejoin="round">0.0000</text>
<text transform="translate(941.2,1353.4) scale(0.94,1)" font-size="36.3" text-anchor="start" font-weight="normal" fill="#ff0000" stroke="#ff0000" stroke-width="1" stroke-linejoin="round">1.0x10<tspan font-size="21.5" dy="-16.3">11</tspan></text>
<text transform="translate(941.2,1587.4) scale(0.94,1)" font-size="36.3" text-anchor="start" font-weight="normal" fill="#ff0000" stroke="#ff0000" stroke-width="1" stroke-linejoin="round">5.0x10<tspan font-size="21.5" dy="-16.3">10</tspan></text>
<text transform="translate(941.2,1820.9) scale(0.94,1)" font-size="36.3" text-anchor="start" font-weight="normal" fill="#ff0000" stroke="#ff0000" stroke-width="1" stroke-linejoin="round">0.0</text>
<text transform="translate(254.7,1874.5) scale(0.94,1)" font-size="36.3" text-anchor="middle" font-weight="normal" fill="#000" stroke="#000" stroke-width="1" stroke-linejoin="round">0</text>
<text transform="translate(521.35,1874.5) scale(0.94,1)" font-size="36.3" text-anchor="middle" font-weight="normal" fill="#000" stroke="#000" stroke-width="1" stroke-linejoin="round">2</text>
<text transform="translate(788,1874.5) scale(0.94,1)" font-size="36.3" text-anchor="middle" font-weight="normal" fill="#000" stroke="#000" stroke-width="1" stroke-linejoin="round">4</text>
<text transform="translate(588.31,1941.2) scale(1.04,1)" font-size="42" text-anchor="middle" font-weight="bold" fill="#000">time(h)</text>
</g>
<text transform="translate(0.3,44.6) scale(1.05,1)" font-size="61" text-anchor="start" font-weight="bold" fill="#000">A</text>
<text transform="translate(3,708.3) scale(0.97,1)" font-size="61" text-anchor="start" font-weight="bold" fill="#000">B</text>
<text transform="translate(2,1369.3) scale(0.9,1)" font-size="64" text-anchor="start" font-weight="bold" fill="#000">C</text>
<text transform="translate(1170.6,42.6) scale(0.96,1)" font-size="61" text-anchor="start" font-weight="bold" fill="#000">D</text>
<text transform="translate(116.6,370) rotate(-90) scale(1.03,1)" font-size="42" fill="#000" stroke-linejoin="round"><tspan font-family="'Liberation Serif', serif" font-weight="normal" letter-spacing="-0.55" stroke="#000" stroke-width="0.5">&#916;</tspan><tspan font-weight="normal" letter-spacing="-0.55" stroke="#000" stroke-width="1">C/C</tspan><tspan font-size="25.5" font-weight="normal" letter-spacing="-0.55" stroke="#000" stroke-width="0.8" dy="16.5">0</tspan></text>
<text transform="translate(1110,389.5) rotate(-90) scale(1.03,1)" font-size="42" fill="#ff0000" stroke-linejoin="round"><tspan font-weight="bold">A</tspan><tspan font-size="26.2" font-weight="normal" letter-spacing="0.25" stroke="#ff0000" stroke-width="0.8" dy="16.5">Bacteria</tspan></text>
<text transform="translate(113.4,1072.5) rotate(-90) scale(1.03,1)" font-size="42" fill="#000" stroke-linejoin="round"><tspan font-weight="bold">d(</tspan><tspan font-family="'Liberation Serif', serif" font-weight="normal" letter-spacing="-0.55" stroke="#000" stroke-width="0.5">&#916;</tspan><tspan font-weight="normal" letter-spacing="-0.55" stroke="#000" stroke-width="1">C/C</tspan><tspan font-size="25.5" font-weight="normal" letter-spacing="-0.55" stroke="#000" stroke-width="0.8" dy="16.5">0</tspan><tspan font-weight="bold" dy="-16.5">)/dt</tspan></text>
<text transform="translate(1083.4,1091.7) rotate(-90) scale(1.03,1)" font-size="42" fill="#ff0000" stroke-linejoin="round"><tspan font-weight="bold">d(A</tspan><tspan font-size="26.2" font-weight="normal" letter-spacing="0.25" stroke="#ff0000" stroke-width="0.8" dy="16.5">Bacteria</tspan><tspan font-weight="bold" dy="-16.5">)/dt</tspan></text>
<text transform="translate(73.6,1810.5) rotate(-90) scale(1.03,1)" font-size="42" fill="#000" stroke-linejoin="round"><tspan font-weight="bold">(</tspan><tspan font-family="'Liberation Serif', serif" font-weight="normal" letter-spacing="-0.55" stroke="#000" stroke-width="0.5">&#916;</tspan><tspan font-weight="normal" letter-spacing="-0.55" stroke="#000" stroke-width="1">C/C</tspan><tspan font-size="25.5" font-weight="normal" letter-spacing="-0.55" stroke="#000" stroke-width="0.8" dy="16.5">0</tspan><tspan font-weight="bold" dy="-16.5">)xd(</tspan><tspan font-family="'Liberation Serif', serif" font-weight="normal" letter-spacing="-0.55" stroke="#000" stroke-width="0.5">&#916;</tspan><tspan font-weight="normal" letter-spacing="-0.55" stroke="#000" stroke-width="1">C/C</tspan><tspan font-size="25.5" font-weight="normal" letter-spacing="-0.55" stroke="#000" stroke-width="0.8" dy="16.5">0</tspan><tspan font-weight="bold" dy="-16.5">)/dt</tspan></text>
<text transform="translate(1117.5,1826) rotate(-90) scale(1.03,1)" font-size="42" fill="#ff0000" stroke-linejoin="round"><tspan font-weight="bold">(A</tspan><tspan font-size="26.2" font-weight="normal" letter-spacing="0.25" stroke="#ff0000" stroke-width="0.8" dy="16.5">Bacteria</tspan><tspan font-weight="bold" dy="-16.5">)xd(A</tspan><tspan font-size="26.2" font-weight="normal" letter-spacing="0.25" stroke="#ff0000" stroke-width="0.8" dy="16.5">Bacteria</tspan><tspan font-weight="bold" dy="-16.5">)/dt</tspan></text>
</svg>
</body></html>
